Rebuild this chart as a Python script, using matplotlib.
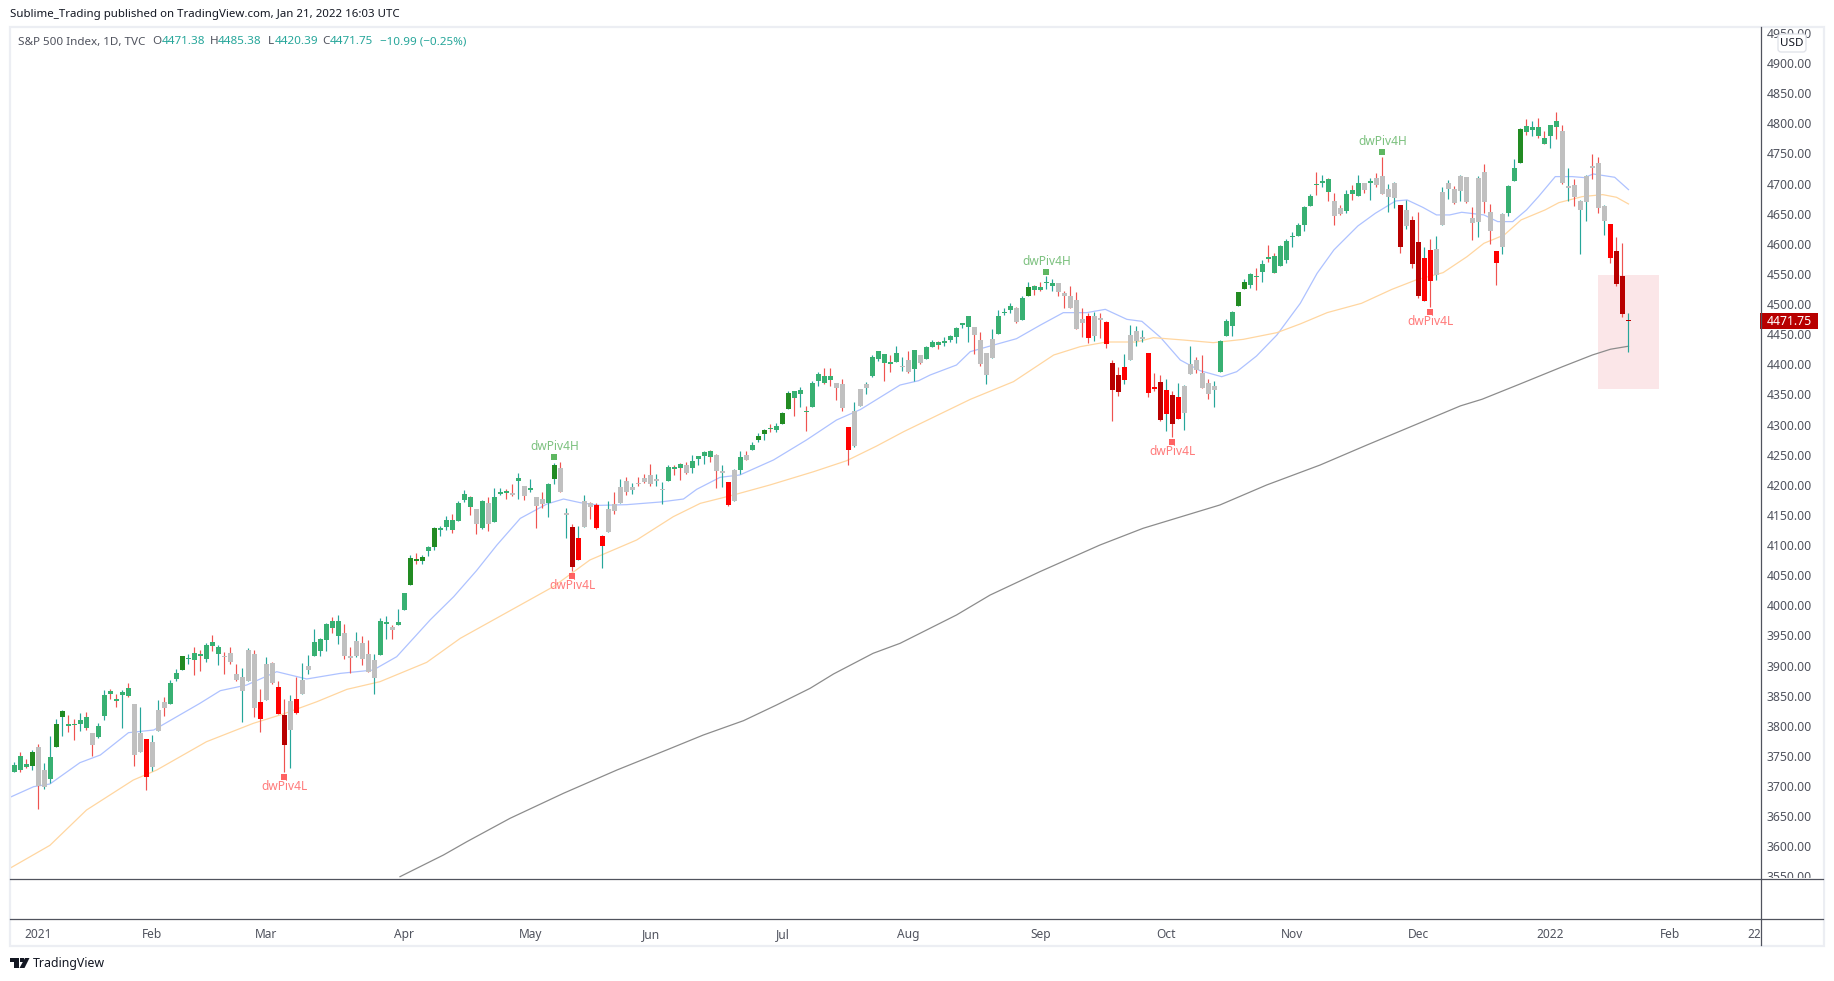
import matplotlib
matplotlib.use("Agg")
import matplotlib.pyplot as plt
from matplotlib.lines import Line2D
from matplotlib.patches import Rectangle, Polygon, FancyBboxPatch
from matplotlib.transforms import IdentityTransform

plt.rcParams['font.family'] = ['Noto Sans', 'DejaVu Sans']

W, H = 1834, 981

# bars: late Dec 2020 to Jan 21 2022, one value per bar
opens = [
    3723.03, 3750.01, 3736.19, 3733.27,
    3764.61, 3698.02, 3712.2, 3764.71, 3815.05, 3803.14, 3801.62, 3802.23, 3814.98, 3788.73, 3781.88, 3816.22, 3857.46, 3844.24, 3851.68, 3862.96, 3836.83, 3755.75, 3778.05,
    3731.17, 3791.84, 3840.27, 3836.66, 3878.3, 3892.59, 3910.49, 3920.78, 3916.4, 3911.65, 3939.61, 3918.5, 3915.86, 3921.16, 3885.55, 3857.07, 3873.71, 3919.94, 3839.66,
    3842.51, 3903.64, 3863.99, 3818.53, 3793.58, 3844.39, 3851.97, 3891.99, 3915.54, 3924.52, 3942.96, 3973.59, 3949.57, 3953.5, 3913.14, 3916.48, 3937.6, 3919.93, 3879.34, 3917.12, 3969.31, 3963.34, 3967.25,
    3992.78, 4034.44, 4075.57, 4074.29, 4089.95, 4096.11, 4124.71, 4130.1, 4141.58, 4139.76, 4174.14, 4179.8, 4159.18, 4128.42, 4170.46, 4138.78, 4185.03, 4188.25, 4185.14, 4206.14, 4198.1,
    4191.98, 4179.04, 4177.06, 4169.14, 4210.34, 4228.29, 4150.34, 4130.55, 4074.99, 4129.58, 4169.92, 4165.94, 4098.45, 4121.97, 4168.61, 4170.16, 4205.94, 4191.59, 4201.94, 4210.77,
    4216.52, 4206.82, 4191.43, 4206.05, 4229.34, 4233.81, 4232.99, 4228.56, 4242.9, 4248.31, 4255.28, 4248.87, 4220.37, 4204.78, 4173.4, 4224.61, 4249.27, 4256.97, 4274.45, 4284.9, 4293.21, 4290.65,
    4300.73, 4326.6, 4356.46, 4351.01, 4321.07, 4329.38, 4372.41, 4381.07, 4380.11, 4369.02, 4367.43, 4296.4, 4265.11, 4331.13, 4361.27, 4381.2, 4409.58, 4416.38, 4402.95, 4403.59, 4395.12,
    4406.86, 4392.74, 4415.95, 4408.86, 4429.07, 4437.77, 4435.79, 4440.5, 4446.08, 4464.84, 4461.65, 4462.12, 4440.94, 4382.44, 4410.56, 4450.29, 4484.4, 4490.45, 4493.75, 4474.1, 4513.76, 4529.75,
    4528.8, 4534.48, 4530.0, 4535.38, 4518.09, 4513.02, 4506.92, 4474.81, 4479.33, 4447.49, 4477.09, 4469.74, 4402.95, 4382.0, 4374.0, 4406.75, 4438.04, 4442.12, 4419.54, 4362.44, 4370.67,
    4317.16, 4348.91, 4309.87, 4319.57, 4383.73, 4406.51, 4385.44, 4368.31, 4358.01, 4386.75, 4447.69, 4463.72, 4497.34, 4524.42, 4532.24, 4546.12, 4553.69, 4578.69, 4580.22, 4562.84, 4572.87,
    4610.62, 4613.34, 4630.65, 4662.93, 4699.26, 4701.48, 4707.25, 4670.26, 4659.39, 4655.24, 4689.3, 4679.42, 4701.5, 4700.72, 4708.44, 4712.0, 4678.48, 4675.78, 4664.63, 4628.75, 4640.25,
    4602.82, 4504.73, 4589.49, 4548.37, 4631.97, 4690.86, 4691.0, 4687.64, 4710.3, 4642.99, 4636.46, 4719.13, 4652.5, 4587.9, 4594.96, 4650.36, 4703.96, 4733.99, 4795.49, 4788.64, 4794.23, 4775.21,
    4778.14, 4804.51, 4787.99, 4693.39, 4697.66, 4655.34, 4669.14, 4728.59, 4733.56, 4637.99, 4632.24, 4588.03, 4547.35, 4471.38,
]
highs = [
    3740.51, 3756.12, 3744.63, 3760.2,
    3769.99, 3737.83, 3783.04, 3811.55, 3826.69, 3817.86, 3810.78, 3820.96, 3823.6, 3788.73, 3804.53, 3859.75, 3861.45, 3852.31, 3859.23, 3870.9, 3836.83, 3830.5, 3778.05,
    3784.32, 3843.09, 3847.51, 3876.77, 3894.56, 3915.77, 3918.35, 3931.5, 3925.99, 3937.23, 3950.43, 3933.61, 3921.98, 3930.41, 3902.92, 3895.98, 3928.65, 3925.02, 3861.08,
    3914.5, 3906.41, 3874.47, 3843.67, 3851.69, 3881.06, 3903.76, 3917.35, 3960.27, 3944.99, 3970.08, 3981.04, 3983.87, 3969.62, 3930.12, 3955.31, 3949.13, 3942.08, 3919.54, 3978.19, 3981.83, 3968.01, 3994.41,
    4020.63, 4083.42, 4086.23, 4083.13, 4098.19, 4129.48, 4131.76, 4148.0, 4151.69, 4173.49, 4191.31, 4180.81, 4159.18, 4175.02, 4179.57, 4194.17, 4194.19, 4193.35, 4201.53, 4218.78, 4198.1,
    4209.39, 4179.04, 4187.72, 4202.7, 4236.39, 4238.04, 4162.04, 4134.73, 4131.58, 4183.13, 4171.92, 4169.15, 4116.93, 4172.8, 4188.72, 4209.52, 4213.42, 4202.61, 4213.38, 4218.36,
    4234.12, 4217.37, 4204.39, 4233.45, 4232.34, 4236.74, 4237.09, 4249.74, 4248.38, 4255.59, 4257.16, 4251.89, 4232.29, 4204.78, 4226.24, 4255.84, 4256.6, 4271.28, 4286.12, 4292.14, 4300.52, 4302.43,
    4320.66, 4355.43, 4356.46, 4361.88, 4330.88, 4371.6, 4386.68, 4393.66, 4393.68, 4369.02, 4375.09, 4296.4, 4336.84, 4358.69, 4369.87, 4415.18, 4422.73, 4416.38, 4415.47, 4429.97, 4412.25,
    4422.18, 4423.79, 4416.17, 4429.76, 4440.82, 4439.39, 4445.21, 4449.44, 4461.77, 4468.37, 4480.26, 4462.12, 4454.32, 4418.61, 4458.18, 4489.88, 4492.81, 4501.71, 4495.9, 4513.33, 4537.36, 4531.39,
    4537.11, 4545.85, 4541.45, 4535.38, 4521.79, 4529.9, 4520.47, 4492.99, 4485.68, 4486.87, 4485.87, 4471.41, 4406.75, 4394.87, 4416.75, 4465.4, 4463.12, 4457.3, 4419.54, 4385.57, 4382.53,
    4375.19, 4355.51, 4369.23, 4365.57, 4429.97, 4412.02, 4415.88, 4374.89, 4372.87, 4439.73, 4475.82, 4488.75, 4520.4, 4540.87, 4551.44, 4559.67, 4572.62, 4598.53, 4584.57, 4597.55, 4608.08,
    4620.34, 4635.15, 4663.46, 4683.0, 4718.5, 4714.92, 4708.53, 4684.85, 4664.55, 4688.47, 4697.42, 4714.95, 4701.5, 4708.8, 4717.75, 4743.83, 4699.39, 4702.87, 4664.63, 4672.95, 4646.02,
    4652.94, 4595.46, 4608.03, 4612.6, 4694.04, 4705.06, 4695.26, 4713.57, 4710.3, 4660.47, 4712.6, 4731.99, 4666.7, 4587.9, 4651.14, 4697.67, 4740.74, 4791.49, 4807.02, 4804.06, 4808.93, 4786.83,
    4796.64, 4818.62, 4797.7, 4725.01, 4707.95, 4673.02, 4714.13, 4748.83, 4744.13, 4665.13, 4632.24, 4611.55, 4602.11, 4485.38,
]
lows = [
    3723.03, 3723.31, 3730.21, 3726.88,
    3662.71, 3695.07, 3705.34, 3764.71, 3783.6, 3789.02, 3776.51, 3791.5, 3792.86, 3749.85, 3780.37, 3809.79, 3845.05, 3830.41, 3797.16, 3847.78, 3732.48, 3755.75, 3694.12,
    3725.62, 3791.84, 3816.68, 3836.66, 3874.93, 3892.59, 3902.64, 3884.94, 3890.39, 3905.78, 3923.85, 3900.43, 3885.6, 3903.07, 3874.71, 3805.59, 3873.71, 3814.04, 3789.54,
    3842.51, 3868.57, 3818.86, 3723.34, 3730.19, 3819.25, 3851.97, 3885.73, 3915.54, 3915.21, 3923.54, 3953.44, 3935.74, 3910.86, 3886.83, 3914.16, 3901.57, 3889.07, 3853.5, 3917.12, 3943.25, 3944.35, 3966.98,
    3992.78, 4034.44, 4068.14, 4068.31, 4082.55, 4092.52, 4114.82, 4124.43, 4120.64, 4139.76, 4170.75, 4150.47, 4118.38, 4126.01, 4123.69, 4138.78, 4182.36, 4176.22, 4181.78, 4176.81, 4174.85,
    4188.03, 4128.59, 4160.94, 4147.33, 4201.02, 4187.61, 4111.53, 4056.88, 4074.99, 4129.58, 4142.69, 4125.99, 4061.41, 4121.97, 4151.72, 4170.16, 4182.52, 4184.11, 4197.78, 4203.57,
    4197.59, 4198.27, 4167.34, 4206.05, 4215.66, 4208.41, 4218.74, 4220.34, 4232.25, 4234.07, 4238.35, 4194.99, 4196.05, 4164.4, 4173.4, 4217.27, 4241.43, 4256.97, 4271.16, 4274.67, 4287.04, 4287.96,
    4300.73, 4326.6, 4314.37, 4329.79, 4289.37, 4329.38, 4364.03, 4367.0, 4364.0, 4340.0, 4322.53, 4233.13, 4262.05, 4331.13, 4350.06, 4379.0, 4405.45, 4372.51, 4387.01, 4403.59, 4389.65,
    4384.81, 4373.0, 4400.23, 4408.86, 4429.07, 4424.74, 4430.03, 4436.42, 4435.96, 4460.82, 4437.66, 4417.83, 4397.59, 4367.73, 4410.56, 4450.29, 4482.28, 4485.66, 4468.99, 4474.1, 4513.76, 4515.8,
    4522.02, 4524.66, 4521.3, 4513.0, 4493.95, 4492.99, 4458.58, 4445.7, 4435.46, 4438.37, 4443.8, 4427.76, 4305.91, 4347.96, 4367.43, 4406.75, 4430.03, 4436.19, 4346.33, 4355.08, 4306.54,
    4288.52, 4278.94, 4309.87, 4290.49, 4383.73, 4386.22, 4360.59, 4342.09, 4329.92, 4386.75, 4447.69, 4447.47, 4496.41, 4524.4, 4526.89, 4524.0, 4537.36, 4569.17, 4551.66, 4562.84, 4567.59,
    4595.06, 4613.34, 4621.19, 4662.59, 4681.32, 4694.39, 4670.87, 4630.86, 4648.31, 4650.77, 4672.86, 4679.42, 4684.41, 4672.78, 4694.22, 4682.17, 4652.66, 4659.89, 4585.43, 4625.26, 4560.0,
    4510.27, 4504.73, 4495.12, 4540.51, 4631.97, 4674.52, 4665.98, 4670.24, 4667.6, 4606.52, 4611.22, 4651.89, 4600.22, 4531.1, 4583.16, 4645.53, 4703.96, 4733.99, 4780.04, 4778.08, 4775.33, 4765.75,
    4758.17, 4774.27, 4699.44, 4671.26, 4662.74, 4582.24, 4638.27, 4706.71, 4650.29, 4614.75, 4568.7, 4530.2, 4477.95, 4420.39,
]
closes = [
    3735.36, 3727.04, 3732.04, 3756.07,
    3700.65, 3726.86, 3748.14, 3803.79, 3824.68, 3799.61, 3801.19, 3809.84, 3795.54, 3768.25, 3798.91, 3851.85, 3853.07, 3841.47, 3855.36, 3849.62, 3750.77, 3787.38, 3714.24,
    3773.86, 3826.31, 3830.17, 3871.74, 3886.83, 3915.59, 3911.23, 3909.88, 3916.38, 3934.83, 3932.59, 3931.33, 3913.97, 3906.71, 3876.5, 3881.37, 3925.43, 3829.34, 3811.15,
    3901.82, 3870.29, 3819.72, 3768.47, 3841.94, 3821.35, 3875.44, 3898.81, 3939.34, 3943.34, 3968.94, 3962.71, 3974.12, 3915.46, 3913.1, 3940.59, 3910.52, 3889.14, 3909.52, 3974.54, 3971.09, 3958.55, 3972.89,
    4019.87, 4077.91, 4073.94, 4079.95, 4097.17, 4128.8, 4127.99, 4141.59, 4124.66, 4170.42, 4185.47, 4163.26, 4134.94, 4173.42, 4134.98, 4180.17, 4187.62, 4186.72, 4183.18, 4211.47, 4181.17,
    4192.66, 4164.66, 4167.59, 4201.62, 4232.6, 4188.43, 4152.1, 4063.04, 4112.5, 4173.85, 4163.29, 4127.83, 4115.68, 4159.12, 4155.86, 4197.05, 4188.13, 4195.99, 4200.88, 4204.11,
    4202.04, 4208.12, 4192.85, 4229.89, 4226.52, 4227.26, 4219.55, 4239.18, 4247.44, 4255.15, 4246.59, 4223.7, 4221.86, 4166.45, 4224.79, 4246.44, 4241.84, 4266.49, 4280.7, 4290.61, 4291.8, 4297.5,
    4319.94, 4352.34, 4343.54, 4358.13, 4320.82, 4369.55, 4384.63, 4369.21, 4374.3, 4360.03, 4327.16, 4258.49, 4323.06, 4358.69, 4367.48, 4411.79, 4422.3, 4401.46, 4400.64, 4419.15, 4395.26,
    4387.16, 4423.15, 4402.66, 4429.1, 4436.52, 4432.35, 4436.75, 4447.7, 4460.83, 4468.0, 4479.71, 4448.08, 4400.27, 4418.0, 4441.67, 4479.53, 4486.23, 4496.19, 4470.0, 4509.37, 4528.79, 4522.68,
    4524.09, 4536.95, 4535.43, 4520.03, 4514.07, 4493.28, 4458.58, 4468.73, 4443.05, 4480.7, 4473.75, 4432.99, 4357.73, 4354.19, 4395.64, 4448.98, 4455.48, 4443.11, 4352.63, 4359.46, 4307.54,
    4357.04, 4300.46, 4345.72, 4363.55, 4399.76, 4391.34, 4361.19, 4350.65, 4363.8, 4438.26, 4471.37, 4486.46, 4519.63, 4536.19, 4549.78, 4544.9, 4566.48, 4574.79, 4551.68, 4596.42, 4605.38,
    4613.67, 4630.65, 4660.57, 4680.06, 4697.53, 4701.7, 4685.25, 4646.71, 4649.27, 4682.85, 4682.8, 4700.9, 4688.67, 4704.54, 4697.96, 4682.94, 4690.7, 4701.46, 4594.62, 4655.27, 4567.0,
    4513.04, 4577.1, 4538.43, 4591.67, 4686.75, 4701.21, 4667.45, 4712.02, 4668.97, 4634.09, 4709.85, 4668.67, 4620.64, 4568.02, 4649.23, 4696.56, 4725.79, 4791.19, 4786.35, 4793.06, 4778.73, 4766.18,
    4796.56, 4793.54, 4700.58, 4696.05, 4677.03, 4670.29, 4713.07, 4726.35, 4659.03, 4662.85, 4577.11, 4532.76, 4482.73, 4471.75,
]
# body colour per bar: g green, G dark green, r red, R dark red, n grey
body_kinds = (
    "gggG"
    "nngGGggggnggggggnnr"
    "nnnggGggggggnnnnnnr"
    "nnrRnrnngggggnnnnnnggng"
    "gGGGgGggggggngngggngn"
    "gnngGnnRrnnrrnnnnnnn"
    "nnngggnggggnnrngngGGgg"
    "GGgggggggnnrnnngggggn"
    "ngnggggggggnnnngggngGg"
    "gggnnnnnrnnrRRrnnnrrR"
    "rRrnnnnnngggGGggggggg"
    "gggggggnngggngnnnnRnR"
    "RrrnnnnnnnnnnrnggGgggg"
    "ggnnnnnnnnrRRR"
)

# moving average lines, read at a few bars each
ma_fast_x = [-0.6, 3.2, 5.9, 10.9, 14.3, 19, 23.2, 30.9, 34.3, 38.7, 43.7, 48.7, 54.3, 59.8, 63.7, 69.3,
             73.2, 77, 80.4, 84.3, 88.7, 91.5, 94.3, 97.6, 102, 107.6, 111.5, 113.7, 117.6, 120.9, 126.5,
             132, 137, 141, 147.6, 150.7, 152.6, 157, 159.3, 162.6, 167, 171, 174.8, 178.7, 181.8, 185.4,
             187.9, 191, 194.3, 197.6, 201.2, 203.7, 207, 210.4, 214.3, 217.1, 219.9, 223.9, 226.8, 230.2,
             232.1, 234.7, 237, 239.2, 241.2, 244.9, 247.2, 249.7, 252, 254, 256.8, 259.6, 261.7, 263.1, 266.7, 269]
ma_fast_y = [3682, 3699, 3703.4, 3738.8, 3751.5, 3788.6, 3793, 3837.3, 3858.3, 3867.7, 3889.8, 3877.7, 3887, 3892.6, 3914.7, 3976,
             4014.3, 4057.5, 4100, 4144.3, 4168, 4176.4, 4170.3, 4165.9, 4167, 4171.4, 4176.4, 4192.5, 4212.4, 4216.3, 4241.2,
             4274.4, 4307.5, 4325, 4365.6, 4372.8, 4382.2, 4398.8, 4421, 4430.3, 4442.5, 4465.2, 4485.7, 4485.7, 4491.2, 4474.6,
             4471.3, 4444.7, 4407.1, 4389.4, 4379.4, 4387.7, 4413.7, 4448.6, 4501.2, 4551, 4589.8, 4629.6, 4650.6, 4671.1,
             4672.8, 4660.6, 4647.9, 4647.9, 4652.3, 4647.9, 4636.8, 4636.8, 4656.2, 4678.3, 4711.5, 4711.5, 4709.8, 4715.9, 4710.4, 4689.9]
ma_mid_x = [-0.6, 5.9, 12, 19.8, 23.7, 32, 39.8, 44.8, 50.4, 55.4, 60.9, 68.7, 74.3, 79.8, 89.8, 95.9, 103.7, 109.8,
            114.3, 119.8, 125.9, 133.2, 138.7, 143.7, 148.2, 159.3, 166.5, 173.2, 177.6, 182, 187, 189.8, 194.8,
            199.8, 204.8, 210.4, 214.3, 218.8, 224.5, 229.6, 233.6, 238.1, 242.1, 244.9, 248.3, 251.1, 255.1, 257.4,
            261.3, 264.7, 267, 269]
ma_mid_y = [3564.5, 3601.6, 3660.2, 3710, 3726.6, 3773.6, 3804.1, 3819.6, 3840, 3860.5, 3873.2, 3905.3, 3945.2, 3975.6, 4030.9, 4075.2, 4108.4, 4147.1,
            4169.2, 4183, 4199.7, 4221.8, 4240, 4264.4, 4288.2, 4341.8, 4371.2, 4415.4, 4429.2, 4437, 4437, 4444.2, 4440.3,
            4435.9, 4441.4, 4452.5, 4467, 4485.8, 4501.2, 4524.5, 4540, 4552.1, 4578.7, 4600.8, 4614.7, 4639.6, 4656.2, 4668.3,
            4678.3, 4681.6, 4677.2, 4666.1]
ma_slow_x = [64.25, 71.5, 75.4, 82.6, 91.5, 100.4, 108.7, 114.8, 121.5, 127, 132.6, 136.5, 143.1, 147.6, 157, 162.6,
             170.9, 180.9, 188.1, 200.9, 208.7, 217.6, 225.4, 231, 241, 244.6, 250.6, 258, 263, 266, 269]
ma_slow_y = [3549.6, 3585.6, 3607.7, 3646.5, 3688, 3726.6, 3759.9, 3784.7, 3808.5, 3834.5, 3862.2, 3886, 3920.3, 3936.9, 3983.9, 4017,
             4055.8, 4100, 4127.8, 4166.5, 4199.7, 4232.8, 4266, 4289.3, 4331, 4342, 4366, 4396, 4415.5, 4425, 4430]

# pivot labels
piv_high_x = [90, 172, 228]
piv_high_mark = [4245.6, 4552.6, 4752]
piv_high_text = [4263, 4570.3, 4769.6]
piv_low_x = [45, 93, 193, 236]
piv_low_mark = [3714.4, 4048, 4270.5, 4486.3]
piv_low_text = [3699, 4032.6, 4255, 4470.8]

# shaded box
box_x = [263.9, 274.1]
box_y = [4359, 4548]

tick_prices = list(range(3550, 4951, 50))
time_ticks = [4, 23, 42, 65, 86, 106, 128, 149, 171, 192, 213, 234, 256, 276, 290]
time_labels = ["2021", "Feb", "Mar", "Apr", "May", "Jun", "Jul", "Aug", "Sep", "Oct", "Nov", "Dec", "2022", "Feb", "22"]

colors = {"g": "#38b072", "G": "#228b22", "r": "#ff0000", "R": "#b80000", "n": "#c0c0c0"}
TEAL = "#26a69a"
CORAL = "#ef5350"
AXIS = "#50535e"


def fx(p):
    return p / W


def fy(p):
    return 1 - p / H


fig = plt.figure(figsize=(W / 100, H / 100), dpi=100)
ax = fig.add_axes([fx(10), fy(878), fx(1750), 851 / H])
ax.set_xlim(-0.75, 290.92)
ax.set_ylim(3547.4, 4959.8)
for s in ax.spines.values():
    s.set_visible(False)

xs = list(range(len(closes)))

ax.add_patch(Rectangle((box_x[0], box_y[0]), box_x[1] - box_x[0], box_y[1] - box_y[0],
                       facecolor="#fbe6e8", edgecolor="none", zorder=1))

ax.plot(ma_fast_x, ma_fast_y, color="#aec2ff", lw=0.9, zorder=2)
ax.plot(ma_mid_x, ma_mid_y, color="#ffd6a0", lw=0.9, zorder=2)
ax.plot(ma_slow_x, ma_slow_y, color="#8c8c8c", lw=0.9, zorder=2)

wick_colors = [TEAL if c >= o else CORAL for o, c in zip(opens, closes)]
ax.vlines(xs, lows, highs, colors=wick_colors, lw=0.85, zorder=3)

bottoms = [min(o, c) for o, c in zip(opens, closes)]
# very small bodies still show as a line
heights = [max(abs(c - o), 2.4) for o, c in zip(opens, closes)]
ax.bar(xs, heights, bottom=bottoms, width=0.8, linewidth=0,
       color=[colors[k] for k in body_kinds], zorder=4)

for x, m, t in zip(piv_high_x, piv_high_mark, piv_high_text):
    ax.plot(x, m, "s", ms=4.2, color="#4caf50", mew=0, alpha=0.9, zorder=5)
    ax.text(x, t, "dwPiv4H", color="#7cc17f", fontsize=8.6, ha="center", va="center", zorder=5)
for x, m, t in zip(piv_low_x, piv_low_mark, piv_low_text):
    ax.plot(x, m, "s", ms=4.2, color="#ff5252", mew=0, alpha=0.9, zorder=5)
    ax.text(x, t, "dwPiv4L", color="#ff7b7b", fontsize=8.6, ha="center", va="center", zorder=5)

ax.yaxis.tick_right()
ax.set_yticks(tick_prices)
ax.set_yticklabels(["%.2f" % p for p in tick_prices])
ax.tick_params(axis="y", length=0, pad=5, labelsize=8.8, labelcolor=AXIS)
ax.set_xticks(time_ticks)
ax.set_xticklabels(time_labels)
ax.tick_params(axis="x", length=0, pad=36, labelsize=8.6, labelcolor=AXIS)
for lbl in ax.get_xticklabels():
    if lbl.get_text() in ("2021", "2022"):
        lbl.set_fontweight("bold")

# last price tag
last = closes[-1]
ax.add_patch(Rectangle((1.0, last - 14), 58 / 1750, 28, transform=ax.get_yaxis_transform(),
                       facecolor="#b80000", edgecolor="none", clip_on=False, zorder=6))
ax.text(1 + 7 / 1750, last, "%.2f" % last, transform=ax.get_yaxis_transform(), color="white",
        fontsize=8.8, va="center", ha="left", zorder=7)

# frame, drawn on top of the price scale
frame = "#eceef3"
fig.add_artist(Rectangle((fx(1761), fy(918)), fx(62), 40 / H, transform=fig.transFigure,
                         facecolor="white", edgecolor="none", zorder=5))
fig.add_artist(Line2D([fx(10), fx(1823)], [fy(878.5)] * 2, color=AXIS, lw=0.9, zorder=6))
fig.add_artist(Line2D([fx(10), fx(1823)], [fy(918.5)] * 2, color=AXIS, lw=0.9, zorder=6))
fig.add_artist(Line2D([fx(1760.5)] * 2, [fy(27), fy(945)], color=AXIS, lw=0.9, zorder=6))
fig.add_artist(Rectangle((fx(10), fy(945.5)), fx(1813.5), 918.5 / H, transform=fig.transFigure,
                         facecolor="none", edgecolor=frame, lw=1.6, zorder=4))

# currency box
fig.add_artist(FancyBboxPatch((1778, H - 52), 28, 18, transform=IdentityTransform(),
                              boxstyle="round,pad=0,rounding_size=3",
                              facecolor="white", edgecolor="#dfe1e8", lw=0.9, zorder=7))
fig.text(fx(1792), fy(43), "USD", color="#131722", fontsize=8.4, ha="center", va="center", zorder=8)

# header and legend
fig.text(fx(10), fy(15), "Sublime_Trading published on TradingView.com, Jan 21, 2022 16:03 UTC",
         color="#131722", fontsize=8.25, va="center")
fig.text(fx(18), fy(42), "S&P 500 Index, 1D, TVC", color=AXIS, fontsize=8.4, va="center")
legend_bits = [(152, "O", AXIS), (161.5, "4471.38", TEAL), (209.5, "H", AXIS), (218, "4485.38", TEAL),
               (267.5, "L", AXIS), (275, "4420.39", TEAL), (322, "C", AXIS), (330, "4471.75", TEAL),
               (380, "\u221210.99 (\u22120.25%)", TEAL)]
for px_x, txt, col in legend_bits:
    fig.text(fx(px_x), fy(42), txt, color=col, fontsize=8.4, va="center")

# logo and name at the bottom
logo = "#131722"
fig.add_artist(Polygon([(fx(10), fy(958)), (fx(18.5), fy(958)), (fx(18.5), fy(968)), (fx(14), fy(968)),
                        (fx(14), fy(962)), (fx(10), fy(962))], transform=fig.transFigure,
                       facecolor=logo, edgecolor="none"))
fig.add_artist(Polygon([(fx(25), fy(958)), (fx(29.5), fy(958)), (fx(24.5), fy(968)), (fx(19.5), fy(968))],
                       transform=fig.transFigure, facecolor=logo, edgecolor="none"))
fig.add_artist(Rectangle((fx(20), fy(962)), fx(3.6), 3.6 / H, transform=fig.transFigure,
                         facecolor=logo, edgecolor="none"))
fig.text(fx(33), fy(963), "TradingView", color="#131722", fontsize=8.9, va="center")

fig.savefig("out.png", dpi=100, facecolor="white")
